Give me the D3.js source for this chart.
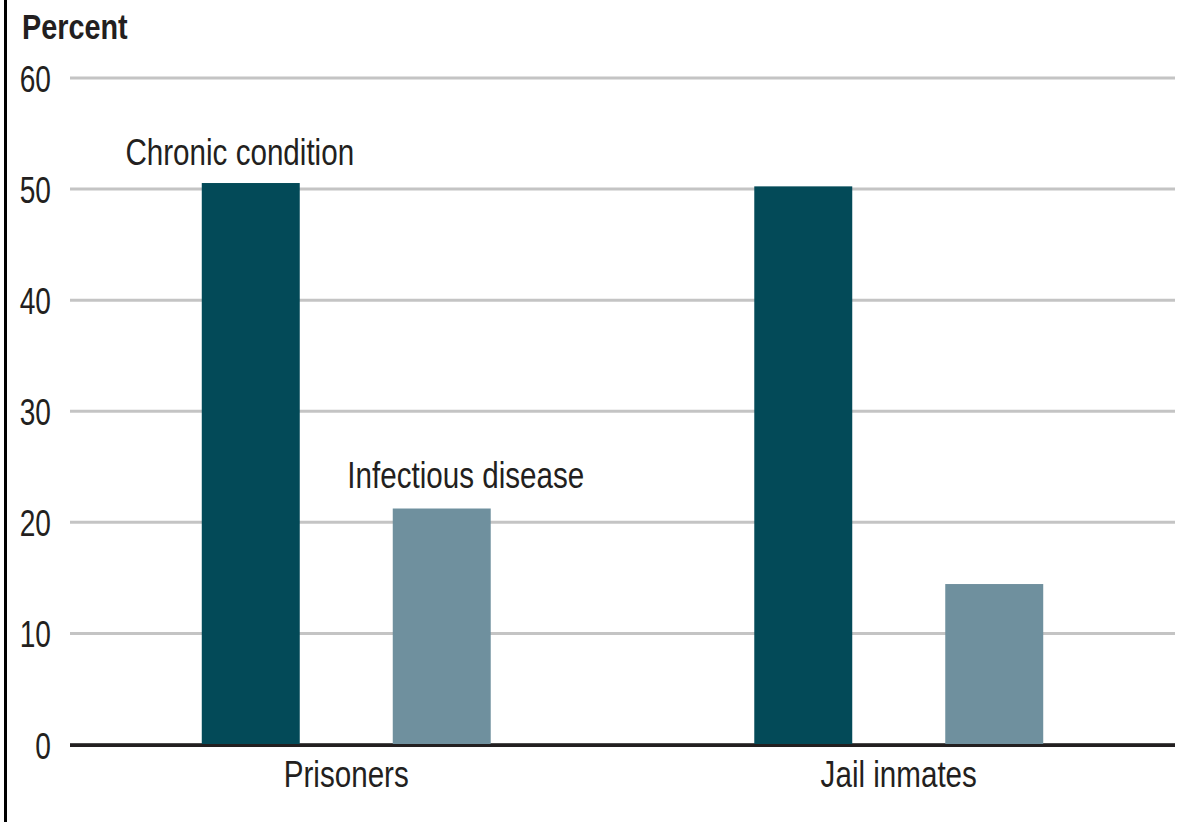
<!DOCTYPE html>
<html><head><meta charset="utf-8">
<script src="https://cdn.jsdelivr.net/npm/d3@7"></script>
<style>
body{margin:0;background:#fff;}
text{font-family:"Liberation Sans","Arial",sans-serif;fill:#231f20;}
</style></head>
<body><svg id="c" width="1184" height="822"></svg>
<script>
const groups = ["Prisoners", "Jail inmates"];
const seriesNames = ["Chronic condition", "Infectious disease"];
const chronic = [50.5, 50.2];
const infectious = [21.2, 14.4];
const yTicks = [0, 10, 20, 30, 40, 50, 60];
const colors = ["#034a58", "#6f909e"];

const svg = d3.select("#c");
const mLeft = 70, mRight = 1175, mTop = 77.5, mBottom = 744;
const fs = 37;
const sx = 0.8;   // condensed look
const sxNum = 0.76;

// left border
svg.append("line").attr("x1",5.5).attr("x2",5.5).attr("y1",0).attr("y2",822)
  .attr("stroke","#000").attr("stroke-width",3);

const y = d3.scaleLinear().domain([0,60]).range([mBottom, mTop]);
const x0 = d3.scaleBand().domain(groups).range([mLeft, mRight]).padding(0);
const x1 = d3.scaleBand().domain(seriesNames).range([0, x0.bandwidth()])
  .paddingInner(0.487).paddingOuter(0.69);

// y axis with gridlines
const ya = svg.append("g").attr("transform",`translate(${mLeft},0)`)
  .call(d3.axisLeft(y).tickValues(yTicks).tickSize(-(mRight-mLeft)).tickPadding(19));
ya.select(".domain").remove();
ya.selectAll(".tick line").attr("stroke", d => d===0 ? "#4d4d4d" : "#c4c4c4").attr("stroke-width",3);
ya.selectAll(".tick text").attr("font-size",fs).attr("dy",null).attr("x",null).attr("y",null)
  .attr("transform",`translate(-19,14) scale(${sxNum},1)`)
  .style("font-family","'Liberation Sans',Arial,sans-serif").attr("fill","#231f20");

// bars
const data = groups.map((g,i)=>({g, vals:[{s:seriesNames[0], v:chronic[i]},{s:seriesNames[1], v:infectious[i]}]}));
const gg = svg.append("g").selectAll("g").data(data).join("g")
  .attr("transform", d=>`translate(${x0(d.g)},0)`);
gg.selectAll("rect").data(d=>d.vals).join("rect")
  .attr("x", d=>x1(d.s)).attr("width", x1.bandwidth())
  .attr("y", d=>y(d.v)).attr("height", d=>y(0)-y(d.v)+1)
  .attr("fill", (d,i)=>colors[i]);

// x axis
const xa = svg.append("g").attr("transform",`translate(0,${mBottom+1.5})`)
  .call(d3.axisBottom(x0).tickSize(0).tickPadding(15));
xa.select(".domain").attr("stroke","#231f20").attr("stroke-width",3)
  .attr("d",`M${mLeft},0H${mRight}`);
xa.selectAll(".tick text").attr("font-size",fs).attr("y",null).attr("dy",null)
  .attr("transform",`translate(0,41) scale(${sx},1)`)
  .style("font-family","'Liberation Sans',Arial,sans-serif").attr("fill","#231f20");

// series labels
function label(txt, x, yy, size, weight, anchor){
  return svg.append("text").attr("transform",`translate(${x},${yy}) scale(${sx},1)`)
    .attr("text-anchor",anchor).attr("font-size",size).attr("font-weight",weight).text(txt);
}
label(seriesNames[0], x0(groups[0]) + x1(seriesNames[0]) + x1.bandwidth()/2 - 11, 165, fs, "normal", "middle");
label(seriesNames[1], x0(groups[0]) + x1(seriesNames[1]) + x1.bandwidth()/2 + 24, 488, fs, "normal", "middle");

// y title
label("Percent", 22, 39, 36, "bold", "start");
</script></body></html>
